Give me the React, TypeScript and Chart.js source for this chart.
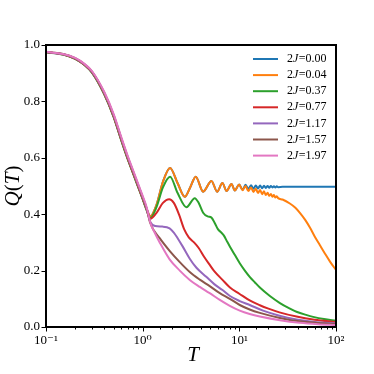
import React, { useEffect, useRef } from "react";
import { Chart, registerables } from "chart.js";

Chart.register(...registerables);

// ---- data ----
const jValues = ["0.00", "0.04", "0.37", "0.77", "1.17", "1.57", "1.97"];
const lineColors = ["#1f77b4", "#ff7f0e", "#2ca02c", "#d62728", "#9467bd", "#8c564b", "#e377c2"];

const tHead = [0.1, 0.15, 0.2, 0.25, 0.3, 0.4, 0.5, 0.6, 0.7, 0.8, 0.9, 1.0];

// 2J = 0.00
const tBlue = [...tHead, 1.1, 1.2, 1.39, 1.62, 1.92, 2.3, 2.73, 3.1, 3.54, 4.22, 5.15, 5.89, 6.69, 7.37, 8.3, 8.98, 9.95,
  10.8, 11.6, 12.4, 13.2, 14.0, 14.8, 15.6, 16.4, 17.2, 18.0, 18.8, 19.6, 20.4, 21.2, 22.0, 22.8, 23.6, 24.4, 25.2, 28, 40, 60, 100];
const qBlue = [0.975, 0.967, 0.952, 0.93, 0.903, 0.828, 0.748, 0.665, 0.598, 0.545, 0.498, 0.456,
  0.418, 0.393, 0.433, 0.515, 0.564, 0.51, 0.462, 0.495, 0.533, 0.48, 0.518, 0.48, 0.511, 0.482, 0.507, 0.484, 0.505,
  0.487, 0.504, 0.489, 0.503, 0.49, 0.502, 0.491, 0.502, 0.492, 0.501, 0.493, 0.5, 0.494, 0.5, 0.495, 0.499, 0.495, 0.499, 0.496,
  0.497, 0.497, 0.497, 0.497];

// 2J = 0.04
const tOrange = [...tHead, 1.1, 1.2, 1.39, 1.62, 1.92, 2.3, 2.73, 3.1, 3.54, 4.22, 5.15, 5.89, 6.69, 7.37, 8.3, 8.98, 9.95,
  10.8, 11.6, 12.4, 13.2, 14.0, 14.8, 15.6, 16.4, 17.2, 18.0, 18.8, 19.6, 20.4, 21.2, 22.0, 22.8, 23.6, 24.4, 25.2,
  28, 33.3, 38, 42.3, 48, 53.7, 60, 68.2, 77, 86.7, 100];
const qOrange = [0.975, 0.967, 0.952, 0.93, 0.903, 0.828, 0.748, 0.665, 0.598, 0.545, 0.498, 0.456,
  0.418, 0.393, 0.433, 0.515, 0.564, 0.51, 0.462, 0.495, 0.533, 0.48, 0.518, 0.48, 0.511, 0.482, 0.507, 0.484, 0.505,
  0.485, 0.5, 0.482, 0.495, 0.479, 0.49, 0.475, 0.486, 0.471, 0.481, 0.468, 0.476, 0.465, 0.472, 0.462, 0.468, 0.459, 0.464, 0.457,
  0.452, 0.438, 0.423, 0.405, 0.38, 0.353, 0.322, 0.29, 0.26, 0.232, 0.202];

// 2J = 0.37
const tGreen = [...tHead, 1.1, 1.2, 1.39, 1.62, 1.92, 2.3, 2.84, 3.46, 3.8, 4.22, 4.7, 5.15, 5.6, 6.0, 6.5, 6.9, 7.5, 8, 9,
  10.1, 11.4, 12.8, 14.5, 16.3, 20.7, 26.3, 33, 39, 50, 58, 75, 100];
const qGreen = [0.974, 0.966, 0.951, 0.929, 0.901, 0.825, 0.745, 0.662, 0.595, 0.542, 0.495, 0.453,
  0.414, 0.387, 0.425, 0.495, 0.533, 0.475, 0.425, 0.457, 0.44, 0.405, 0.392, 0.388, 0.367, 0.347, 0.335, 0.325, 0.302, 0.285, 0.255,
  0.226, 0.2, 0.178, 0.158, 0.14, 0.11, 0.085, 0.066, 0.054, 0.042, 0.036, 0.028, 0.022];

// 2J = 0.77
const tRed = [...tHead, 1.1, 1.2, 1.39, 1.62, 1.88, 2.1, 2.37, 2.7, 3.0, 3.4, 3.8, 4.3, 4.9, 5.5, 6.7, 8, 10, 12.8, 16.3, 20, 26, 39, 60, 100];
const qRed = [0.975, 0.967, 0.952, 0.93, 0.903, 0.828, 0.748, 0.665, 0.598, 0.545, 0.498, 0.456,
  0.416, 0.384, 0.405, 0.44, 0.453, 0.44, 0.4, 0.345, 0.318, 0.3, 0.28, 0.25, 0.222, 0.198, 0.167, 0.14, 0.118, 0.094, 0.077, 0.065,
  0.052, 0.037, 0.026, 0.018];

// 2J = 1.17
const tPurple = [...tHead, 1.1, 1.2, 1.35, 1.6, 1.9, 2.1, 2.3, 2.6, 3.07, 3.6, 4.55, 5.5, 6.7, 8, 10.1, 12.8, 17.6, 26, 39, 60, 100];
const qPurple = [0.975, 0.967, 0.953, 0.931, 0.904, 0.83, 0.75, 0.668, 0.601, 0.548, 0.501, 0.459,
  0.418, 0.373, 0.358, 0.356, 0.35, 0.335, 0.315, 0.285, 0.242, 0.21, 0.178, 0.152, 0.131, 0.11, 0.092, 0.078, 0.058, 0.04, 0.027,
  0.018, 0.012];

// 2J = 1.57
const tBrown = [...tHead, 1.1, 1.2, 1.5, 1.9, 2.42, 3.07, 3.9, 4.94, 6.28, 7.97, 10.1, 12.8, 16.3, 26.3, 42, 65, 100];
const qBrown = [0.975, 0.968, 0.953, 0.932, 0.905, 0.831, 0.752, 0.67, 0.603, 0.55, 0.503, 0.461,
  0.42, 0.368, 0.315, 0.27, 0.23, 0.195, 0.168, 0.145, 0.12, 0.1, 0.078, 0.062, 0.05, 0.032, 0.02, 0.014, 0.01];

// 2J = 1.97
const tPink = [...tHead, 1.1, 1.2, 1.33, 1.5, 1.9, 2.42, 3.07, 3.9, 4.94, 6.28, 7.97, 10.1, 12.8, 16.3, 26.3, 42, 65, 100];
const qPink = [0.976, 0.968, 0.954, 0.933, 0.907, 0.834, 0.756, 0.674, 0.607, 0.554, 0.507, 0.465,
  0.425, 0.37, 0.335, 0.3, 0.24, 0.2, 0.167, 0.142, 0.12, 0.096, 0.075, 0.058, 0.046, 0.037, 0.024, 0.015, 0.01, 0.007];

const seriesT = [tBlue, tOrange, tGreen, tRed, tPurple, tBrown, tPink];
const seriesQ = [qBlue, qOrange, qGreen, qRed, qPurple, qBrown, qPink];

const yTickValues = [0, 0.2, 0.4, 0.6, 0.8, 1.0];
const xTickLabels: Record<string, string> = { "-1": "10\u207B\u00B9", "0": "10\u2070", "1": "10\u00B9", "2": "10\u00B2" };

const SERIF = "'Liberation Serif', 'DejaVu Serif', serif";

const decorPlugin = {
  id: "decor",
  afterDraw(chart: any) {
    const { ctx, chartArea: a, scales } = chart;
    const xs = scales.x;
    const ys = scales.y;
    ctx.save();
    // tick marks
    ctx.strokeStyle = "#000";
    ctx.lineWidth = 1;
    xs.ticks.forEach((t: any) => {
      const e = Math.log10(t.value);
      const major = Math.abs(e - Math.round(e)) < 1e-6;
      const px = Math.round(xs.getPixelForValue(t.value)) + 0.5;
      ctx.beginPath();
      ctx.moveTo(px, a.bottom);
      ctx.lineTo(px, a.bottom + (major ? 4.5 : 2.5));
      ctx.stroke();
    });
    ys.ticks.forEach((t: any) => {
      const py = Math.round(ys.getPixelForValue(t.value)) + 0.5;
      ctx.beginPath();
      ctx.moveTo(a.left, py);
      ctx.lineTo(a.left - 4.5, py);
      ctx.stroke();
    });
    // frame
    ctx.lineWidth = 2;
    ctx.strokeRect(a.left, a.top, a.right - a.left, a.bottom - a.top);

    // legend
    const n = chart.data.datasets.length;
    for (let i = 0; i < n; i++) {
      const ds = chart.data.datasets[i];
      const y = a.top + 14 + i * 16.1;
      ctx.strokeStyle = ds.borderColor;
      ctx.lineWidth = 2;
      ctx.beginPath();
      ctx.moveTo(a.right - 83, y);
      ctx.lineTo(a.right - 58, y);
      ctx.stroke();
      ctx.fillStyle = "#000";
      ctx.textBaseline = "middle";
      ctx.textAlign = "left";
      let x = a.right - 49;
      ctx.font = `12px ${SERIF}`;
      ctx.fillText("2", x, y);
      x += ctx.measureText("2").width;
      ctx.font = `italic 12px ${SERIF}`;
      ctx.fillText("J", x, y);
      x += ctx.measureText("J").width + 0.5;
      ctx.font = `12px ${SERIF}`;
      ctx.fillText("=" + jValues[i], x, y);
    }

    // x title
    ctx.fillStyle = "#000";
    ctx.font = `italic 21px ${SERIF}`;
    ctx.textAlign = "center";
    ctx.textBaseline = "middle";
    ctx.fillText("T", (a.left + a.right) / 2 + 2, 355);

    // y title Q(T)
    ctx.save();
    ctx.translate(13, (a.top + a.bottom) / 2);
    ctx.rotate(-Math.PI / 2);
    const parts: [string, boolean][] = [["Q", true], ["(", false], ["T", true], [")", false]];
    let total = 0;
    parts.forEach(([s, it]) => {
      ctx.font = `${it ? "italic " : ""}21px ${SERIF}`;
      total += ctx.measureText(s).width;
    });
    let px = -total / 2;
    ctx.textAlign = "left";
    parts.forEach(([s, it]) => {
      ctx.font = `${it ? "italic " : ""}21px ${SERIF}`;
      ctx.fillText(s, px, 0);
      px += ctx.measureText(s).width;
    });
    ctx.restore();
    ctx.restore();
  },
};

export default function App() {
  const ref = useRef<HTMLCanvasElement | null>(null);
  useEffect(() => {
    document.body.style.margin = "0";
    const canvas = ref.current;
    if (!canvas) return;
    const N = seriesT.length;
    const chart = new Chart(canvas, {
      type: "line",
      data: {
        datasets: seriesT.map((ts, i) => ({
          label: "2J=" + jValues[i],
          data: ts.map((t, k) => ({ x: t, y: seriesQ[i][k] })),
          borderColor: lineColors[i],
          backgroundColor: lineColors[i],
          borderWidth: 2,
          pointRadius: 0,
          fill: false,
          cubicInterpolationMode: "monotone" as const,
          order: N - i,
        })),
      },
      options: {
        responsive: false,
        animation: false,
        layout: { padding: { top: 45, right: 38, left: 0, bottom: 0 } },
        plugins: { legend: { display: false }, tooltip: { enabled: false }, title: { display: false } },
        scales: {
          x: {
            type: "logarithmic",
            min: 0.1,
            max: 100,
            grid: { display: false, drawTicks: false, tickLength: 0 },
            border: { display: false },
            ticks: {
              autoSkip: false,
              maxRotation: 0,
              padding: 6,
              color: "#000",
              font: { family: SERIF, size: 13 },
              callback: (v: any) => {
                const e = Math.log10(Number(v));
                const r = Math.round(e);
                return Math.abs(e - r) < 1e-6 ? xTickLabels[String(r)] ?? "" : "";
              },
            },
            afterFit: (s: any) => {
              s.height = 47;
            },
          },
          y: {
            type: "linear",
            min: 0,
            max: 1,
            afterBuildTicks: (s: any) => {
              s.ticks = yTickValues.map((v) => ({ value: v }));
            },
            grid: { display: false, drawTicks: false, tickLength: 0 },
            border: { display: false },
            ticks: {
              padding: 6,
              color: "#000",
              font: { family: SERIF, size: 13 },
              callback: (v: any) => Number(v).toFixed(1),
            },
            afterFit: (s: any) => {
              s.width = 46;
            },
          },
        },
      },
      plugins: [decorPlugin],
    });
    return () => chart.destroy();
  }, []);
  return <canvas ref={ref} width={374} height={374} style={{ display: "block" }} />;
}
